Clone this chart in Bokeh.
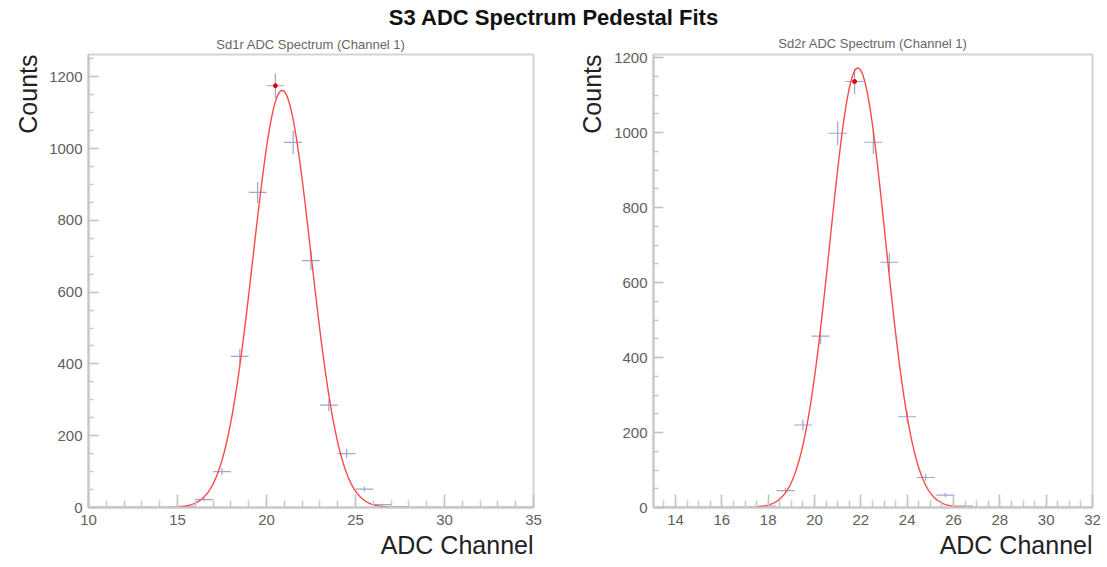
import numpy as np
from bokeh.plotting import figure
from bokeh.models import Div, Title, Range1d, SingleIntervalTicker, ColumnDataSource
from bokeh.layouts import column, row
from bokeh.embed import file_html
from bokeh.resources import INLINE

main_title = "S3 ADC Spectrum Pedestal Fits"
x_label = "ADC Channel"
y_label = "Counts"

# Left panel: Sd1r
sd1_title = "Sd1r ADC Spectrum (Channel 1)"
sd1_x = [15.5, 16.5, 17.5, 18.5, 19.5, 20.5, 21.5, 22.5, 23.5, 24.5, 25.5, 26.5, 27.5]
sd1_counts = [3, 22, 100, 421, 878, 1175, 1017, 688, 285, 150, 51, 8, 2]
sd1_binw = 1.0
sd1_fit = dict(amp=1162, mean=20.88, sigma=1.62)
sd1_xrange = (10, 35)
sd1_yrange = (0, 1262)

# Right panel: Sd2r
sd2_title = "Sd2r ADC Spectrum (Channel 1)"
sd2_x = [17.95, 18.75, 19.5, 20.26, 21.0, 21.73, 22.54, 23.23, 24.0, 24.8, 25.65, 26.45]
sd2_counts = [4, 45, 220, 457, 998, 1136, 974, 654, 242, 80, 33, 4]
sd2_binw = 0.78
sd2_fit = dict(amp=1172, mean=21.87, sigma=1.2)
sd2_xrange = (13.05, 32.0)
sd2_yrange = (0, 1208)

FONT = "Liberation Sans"
ERR_COLOR = "#9ea5d0"
FIT_COLOR = "#ff4848"


def panel(title, xs, counts, binw, fit, xr, yr, xstep, ystep, width, bl, br, x_minor,
          top_standoff, ylab_standoff):
    p = figure(width=width, height=537, output_backend="svg", toolbar_location=None,
               x_range=Range1d(*xr), y_range=Range1d(*yr),
               min_border_left=bl, min_border_right=br, min_border_top=4, min_border_bottom=60)
    p.title.text = title
    p.title.align = "center"
    p.title.text_font = FONT
    p.title.text_font_size = "13px"
    p.title.text_font_style = "normal"
    p.title.text_color = "#666666"
    p.title.standoff = top_standoff
    p.grid.visible = False
    p.outline_line_color = "#d4d4d4"
    p.outline_line_width = 2
    p.background_fill_color = "white"
    p.border_fill_color = "white"

    xs = np.array(xs, dtype=float)
    cs = np.array(counts, dtype=float)
    err = np.sqrt(cs)
    src = ColumnDataSource(dict(x=xs, y=cs, x0=xs - binw / 2, x1=xs + binw / 2,
                                y0=cs - err, y1=cs + err))
    p.segment(x0="x0", y0="y", x1="x1", y1="y", source=src, line_color=ERR_COLOR, line_width=1.2)
    p.segment(x0="x", y0="y0", x1="x", y1="y1", source=src, line_color=ERR_COLOR, line_width=1.2)

    fx = np.linspace(xr[0], xr[1], 600)
    fy = fit["amp"] * np.exp(-0.5 * ((fx - fit["mean"]) / fit["sigma"]) ** 2)
    p.line(fx, fy, line_color=FIT_COLOR, line_width=1.4)

    k = int(np.argmax(cs))
    p.scatter([xs[k]], [cs[k]], size=4, color="#e00000")

    for ax in (p.xaxis[0], p.yaxis[0]):
        ax.major_tick_out = 0
        ax.minor_tick_out = 0
        ax.major_label_text_font = FONT
        ax.major_label_text_font_size = "15px"
        ax.major_label_text_color = "#606060"
        ax.axis_line_color = "#c8c8c8"
        ax.axis_line_width = 2
        ax.major_tick_line_color = "#c0c0c0"
        ax.minor_tick_line_color = "#c8c8c8"
        ax.major_tick_line_width = 1.5
        ax.minor_tick_line_width = 1.5
    p.xaxis.major_tick_in = 13
    p.xaxis.minor_tick_in = 7
    p.yaxis.major_tick_in = 10
    p.yaxis.minor_tick_in = 5
    p.xaxis.ticker = SingleIntervalTicker(interval=xstep, num_minor_ticks=x_minor)
    p.yaxis.ticker = SingleIntervalTicker(interval=ystep, num_minor_ticks=4)
    p.xaxis.major_label_standoff = 7
    p.yaxis.major_label_standoff = 6

    p.add_layout(Title(text=x_label, align="right", text_font=FONT, text_font_size="25px",
                       text_font_style="normal", text_color="#222222", standoff=3), "below")
    p.add_layout(Title(text=y_label, align="right", text_font=FONT, text_font_size="25px",
                       text_font_style="normal", text_color="#222222", standoff=ylab_standoff), "left")
    return p


p1 = panel(sd1_title, sd1_x, sd1_counts, sd1_binw, sd1_fit, sd1_xrange, sd1_yrange,
           5, 200, 553, 88, 20, 5, 5, 9)
p2 = panel(sd2_title, sd2_x, sd2_counts, sd2_binw, sd2_fit, sd2_xrange, sd2_yrange,
           2, 200, 554, 100, 15, 4, 7, 11)

div = Div(text=main_title, width=1107, height=30,
          styles={"text-align": "center", "font-family": "'Liberation Sans'", "font-size": "22px",
                  "font-weight": "bold", "color": "#111111", "width": "1107px",
                  "line-height": "30px", "margin": "0", "padding": "3px 0 0 0"})

layout = column(div, row(p1, p2, spacing=0), spacing=0)

open("out.html", "w").write(file_html(layout, INLINE))
